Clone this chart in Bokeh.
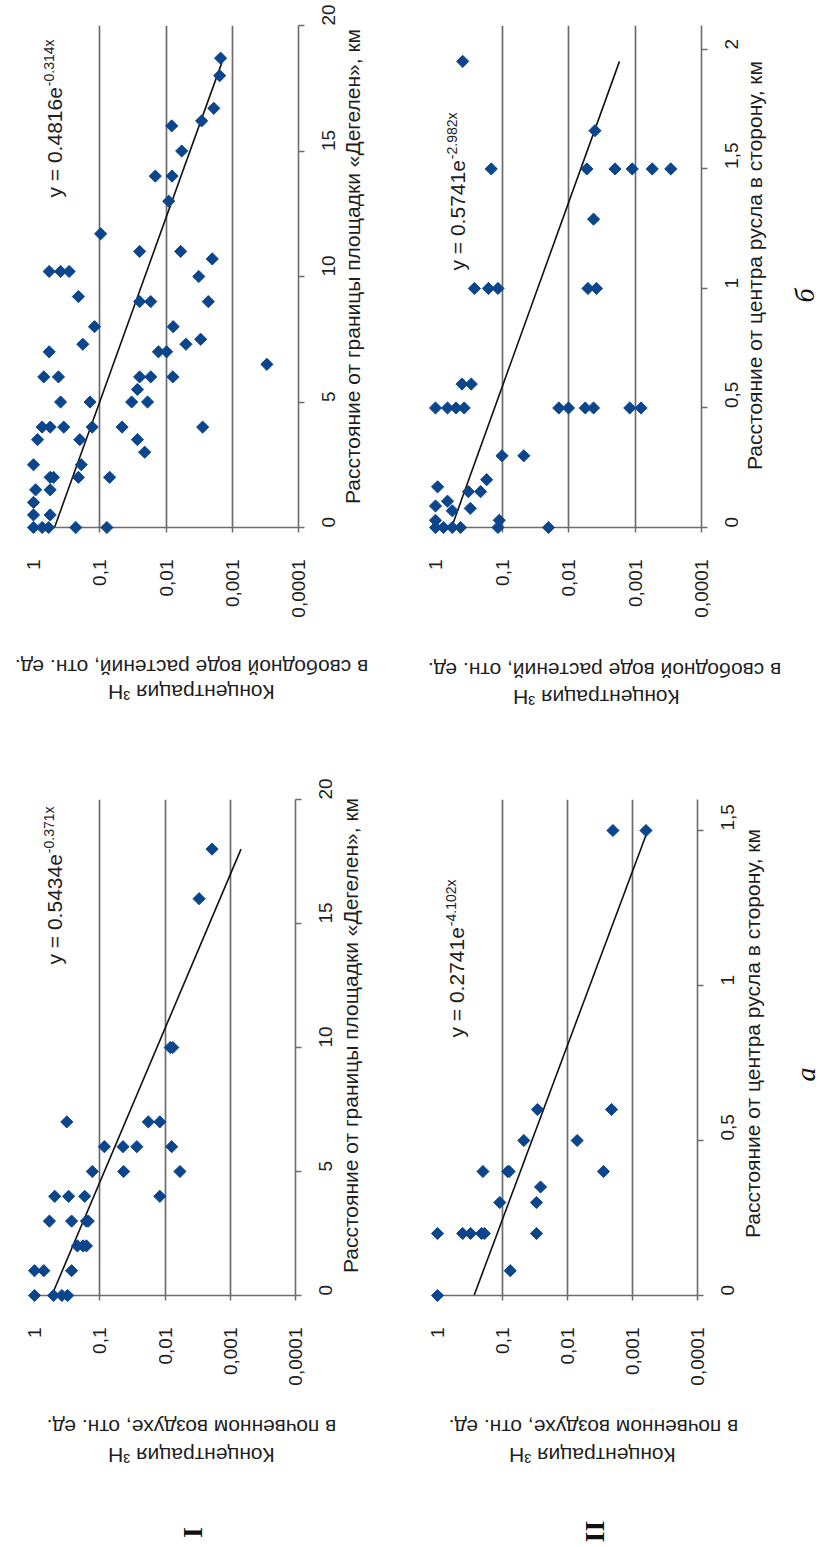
import math
from bokeh.plotting import figure
from bokeh.models import Range1d, FixedTicker, CustomJSTickFormatter
from bokeh.core.properties import value
from bokeh.layouts import column, row
from bokeh.embed import file_html
from bokeh.resources import INLINE

FONT = "Liberation Sans"
SERIF = "Liberation Serif"
TXT = "#1e1e1e"
GRID = "#6c6c6c"
BLUE = "#0b468c"

conc_ticks = [1, 0.1, 0.01, 0.001, 0.0001]
deg_ticks = [0, 5, 10, 15, 20]
chan_ticks_plant = [0, 0.5, 1, 1.5, 2]
chan_ticks_air = [0, 0.5, 1, 1.5]

# I-б : 3H in free water of plants vs distance from Degelen boundary, km
plant_deg_dist = [0, 0, 0, 0, 0, 0.5, 0.5, 1.0, 1.5, 1.5, 2.0, 2.0, 2.0, 2.0,
                  2.5, 2.5, 3.0, 3.5, 3.5, 3.5, 4.0, 4.0, 4.0, 4.0, 4.0, 4.0,
                  5.0, 5.0, 5.0, 5.0, 5.5, 6.0, 6.0, 6.0, 6.0, 6.0, 6.5,
                  7.0, 7.0, 7.0, 7.3, 7.3, 7.5, 8.0, 8.0, 9.0, 9.0, 9.0, 9.2,
                  10.0, 10.2, 10.2, 10.2, 10.7, 11.0, 11.0, 11.7, 13.0,
                  14.0, 14.0, 15.0, 16.0, 16.2, 16.7, 18.0, 18.7]
plant_deg_conc = [1.0, 0.74, 0.59, 0.23, 0.078, 1.0, 0.56, 1.0, 0.93, 0.56,
                  0.56, 0.50, 0.21, 0.071, 1.0, 0.19, 0.021, 0.87, 0.20, 0.027,
                  0.74, 0.56, 0.35, 0.13, 0.046, 0.0028,
                  0.39, 0.14, 0.033, 0.019, 0.027, 0.70, 0.42, 0.025, 0.017, 0.0079,
                  0.0003, 0.58, 0.013, 0.0098, 0.18, 0.005, 0.003, 0.12, 0.0078,
                  0.025, 0.017, 0.0023, 0.21, 0.0032, 0.58, 0.39, 0.29, 0.002,
                  0.025, 0.006, 0.097, 0.0091, 0.0145, 0.0081, 0.0058, 0.0082,
                  0.0029, 0.0019, 0.00155, 0.0015]

# II-б : 3H in free water of plants vs distance from channel centre, km
plant_chan_dist = [0, 0, 0, 0, 0, 0, 0.03, 0.03, 0.07, 0.08, 0.09, 0.11,
                   0.15, 0.15, 0.17, 0.20, 0.30, 0.30,
                   0.5, 0.5, 0.5, 0.5, 0.5, 0.5, 0.5, 0.5, 0.5, 0.5,
                   0.6, 0.6, 1.0, 1.0, 1.0, 1.0, 1.0, 1.29,
                   1.5, 1.5, 1.5, 1.5, 1.5, 1.5, 1.66, 1.95]
plant_chan_conc = [1.0, 0.76, 0.56, 0.42, 0.115, 0.020, 1.0, 0.11, 0.56, 0.30,
                   1.0, 0.66, 0.32, 0.21, 0.93, 0.17, 0.10, 0.047,
                   1.0, 0.66, 0.49, 0.37, 0.014, 0.010, 0.0056, 0.0042, 0.0012, 0.00081,
                   0.40, 0.29, 0.26, 0.16, 0.115, 0.0051, 0.0038, 0.0042,
                   0.145, 0.0053, 0.0020, 0.0011, 0.00055, 0.00029, 0.004, 0.39]

# I-а : 3H in soil air vs distance from Degelen boundary, km
air_deg_dist = [0, 0, 0, 0, 1, 1, 1, 2, 2, 2, 3, 3, 3, 3, 4, 4, 4, 4,
                5, 5, 5, 6, 6, 6, 6, 7, 7, 7, 10, 10, 16, 18]
air_deg_conc = [1.0, 0.51, 0.38, 0.31, 1.0, 0.72, 0.27, 0.22, 0.18, 0.16,
                0.59, 0.27, 0.16, 0.15, 0.49, 0.30, 0.17, 0.012,
                0.13, 0.043, 0.0059, 0.085, 0.044, 0.027, 0.0079,
                0.32, 0.018, 0.012, 0.0083, 0.0076, 0.003, 0.0019]

# II-а : 3H in soil air vs distance from channel centre, km
air_chan_dist = [0, 0.08, 0.2, 0.2, 0.2, 0.2, 0.2, 0.2, 0.3, 0.3, 0.35,
                 0.4, 0.4, 0.4, 0.4, 0.5, 0.5, 0.6, 0.6, 1.5, 1.5]
air_chan_conc = [1.0, 0.076, 1.0, 0.41, 0.31, 0.21, 0.19, 0.030, 0.11, 0.030, 0.026,
                 0.20, 0.083, 0.079, 0.0028, 0.047, 0.0071, 0.029, 0.0021, 0.002, 0.00062]

# exponential trend lines y = a * exp(b * x)
trend_plant_deg = (0.4816, -0.314)
trend_plant_chan = (0.5741, -2.982)
trend_air_deg = (0.5434, -0.371)
trend_air_chan = (0.2741, -4.102)

title_line1 = "Концентрация ³H"
title_plant = "в свободной воде растений, отн. ед."
title_air = "в почвенном воздухе, отн. ед."
xlab_deg = "Расстояние от границы площадки «Дегелен», км"
xlab_chan = "Расстояние от центра русла в сторону, км"

fmt = CustomJSTickFormatter(code="return String(tick).replace('.', ',')")


def put_text(p, x, y, txt, angle, align, size, font=FONT, style="normal", color=TXT):
    p.text(x=[x], y=[y], text=[txt], angle=angle, text_align=align,
           text_baseline="middle", text_font=value(font),
           text_font_style=value(style), text_font_size=value(size),
           text_color=color, level="overlay")


def panel(dist, conc, trend, dmax, dticks, W, H, ox, oy, x1, x4, ytop, ybot,
          formula, ftext, xtitle, ytitle, extras):
    left = x1 - ox
    right_b = W - (x4 - ox)
    top = ytop - oy
    bottom_b = H - (ybot - oy)
    p = figure(width=W, height=H, x_axis_type="log",
               x_range=Range1d(1, 1e-4), y_range=Range1d(0, dmax),
               x_axis_location="below", y_axis_location="right",
               output_backend="svg", toolbar_location=None,
               min_border_left=left, min_border_right=right_b,
               min_border_top=top, min_border_bottom=bottom_b)
    p.outline_line_color = None
    p.background_fill_color = "white"
    p.border_fill_color = "white"

    def at(xi, yi):
        c = 10 ** (-4.0 * (xi - x1) / (x4 - x1))
        d = (ybot - yi) / (ybot - ytop) * dmax
        return c, d

    xa = p.xaxis[0]
    xa.ticker = FixedTicker(ticks=conc_ticks)
    xa.formatter = fmt
    xa.major_label_orientation = math.pi / 2
    xa.major_tick_out = 5
    xa.major_tick_in = 0
    xa.minor_tick_out = 0
    xa.minor_tick_in = 0
    xa.axis_line_color = GRID
    xa.axis_line_width = 1.6
    xa.major_tick_line_color = GRID
    xa.major_tick_line_width = 1.5
    xa.major_label_standoff = 27
    xa.major_label_text_font = FONT
    xa.major_label_text_font_size = "19px"
    xa.major_label_text_color = TXT

    ya = p.yaxis[0]
    ya.ticker = FixedTicker(ticks=dticks)
    ya.formatter = fmt
    ya.major_label_orientation = math.pi / 2
    ya.major_tick_out = 6
    ya.major_tick_in = 0
    ya.minor_tick_out = 0
    ya.minor_tick_in = 0
    ya.axis_line_color = GRID
    ya.axis_line_width = 1.6
    ya.major_tick_line_color = GRID
    ya.major_tick_line_width = 1.5
    ya.major_label_standoff = 24
    ya.major_label_text_font = FONT
    ya.major_label_text_font_size = "19px"
    ya.major_label_text_color = TXT

    p.xgrid.ticker = FixedTicker(ticks=conc_ticks)
    p.xgrid.grid_line_color = GRID
    p.xgrid.grid_line_width = 1.7
    p.ygrid.visible = False

    # trend line over the range of the data
    a, b = trend
    d_end = max(dist)
    p.line([a * math.exp(b * 0), a * math.exp(b * d_end)], [0, d_end],
           line_color="#111111", line_width=1.6)

    p.scatter(conc, dist, marker="square", size=8.6, angle=math.pi / 4,
              fill_color=BLUE, line_color=BLUE, level="overlay")

    # equation of trend
    (fx, fy) = formula
    main, sup = ftext
    cx, cy = at(fx, fy)
    put_text(p, cx, cy, main, math.pi / 2, "left", "21px")
    sx, sy = at(fx - 6, fy - 5.254 * 21 - 1)
    put_text(p, sx, sy, sup, math.pi / 2, "left", "14px")

    # axis titles
    (tx, ty) = xtitle[1]
    lx, ly = at(tx, ty)
    put_text(p, lx, ly, xtitle[0], math.pi / 2, "center", "21px")
    for txt, (tx, ty) in ytitle:
        lx, ly = at(tx, ty)
        put_text(p, lx, ly, txt, math.pi, "center", "21px")
    for txt, (tx, ty), style, size in extras:
        lx, ly = at(tx, ty)
        put_text(p, lx, ly, txt, math.pi / 2, "center", size, font=SERIF,
                 style=style, color="#111111")
    return p


WL, WR = 412, 412
HT, HB = 775, 771

p_tl = panel(plant_deg_dist, plant_deg_conc, trend_plant_deg, 20, deg_ticks,
             WL, HT, 0, 0, 33, 298, 25, 527,
             (54, 197), ("y = 0.4816e", "-0.314x"),
             (xlab_deg, (352, 266)),
             [(title_line1, (191, 692)), (title_plant, (191, 667))], [])

p_tr = panel(plant_chan_dist, plant_chan_conc, trend_plant_chan, 2.1, chan_ticks_plant,
             WR, HT, 412, 0, 435, 701, 25, 527,
             (457, 270), ("y = 0.5741e", "-2.982x"),
             (xlab_chan, (754, 265)),
             [(title_line1, (596, 697)), (title_plant, (604, 670))],
             [("б", (804, 295), "italic", "28px")])

p_bl = panel(air_deg_dist, air_deg_conc, trend_air_deg, 20, deg_ticks,
             WL, HB, 0, 775, 34, 295, 799, 1295,
             (54, 964), ("y = 0.5434e", "-0.371x"),
             (xlab_deg, (350, 1035)),
             [(title_line1, (191, 1455)), (title_air, (191, 1427))],
             [("I", (192, 1532), "bold", "28px")])

p_br = panel(air_chan_dist, air_chan_conc, trend_air_chan, 1.6, chan_ticks_air,
             WR, HB, 412, 775, 437, 697, 799, 1295,
             (456, 1037), ("y = 0.2741e", "-4.102x"),
             (xlab_chan, (752, 1033)),
             [(title_line1, (592, 1455)), (title_air, (593, 1427))],
             [("II", (594, 1531), "bold", "28px"), ("а", (805, 1074), "italic", "28px")])

layout = column(row(p_tl, p_tr, spacing=0), row(p_bl, p_br, spacing=0), spacing=0)

open("out.html", "w").write(file_html(layout, INLINE))
